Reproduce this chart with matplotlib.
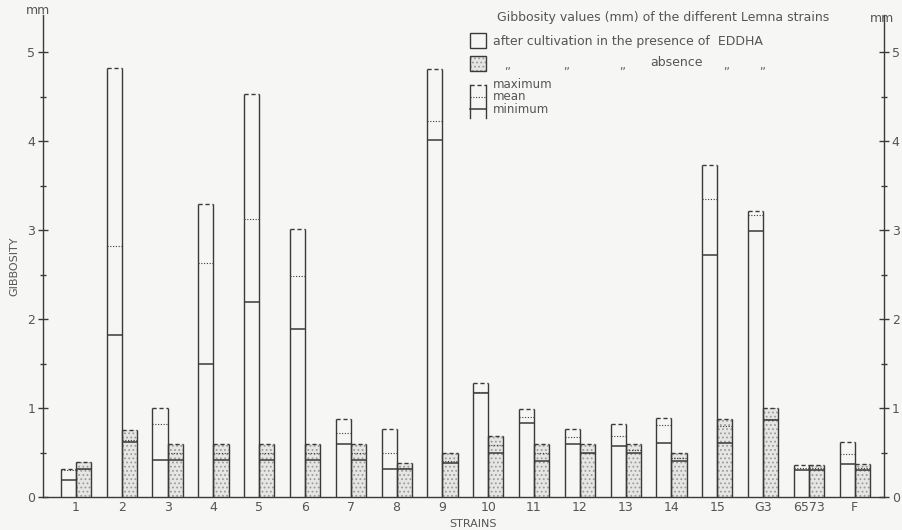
import numpy as np
import matplotlib.pyplot as plt
from matplotlib.patches import Rectangle
from matplotlib.lines import Line2D

# gibbosity (mm) per strain
strains = ["1", "2", "3", "4", "5", "6", "7", "8", "9", "10", "11", "12",
           "13", "14", "15", "G3", "6573", "F"]

# after cultivation in the presence of EDDHA
pres_max = [0.31, 4.82, 1.00, 3.29, 4.53, 3.01, 0.88, 0.76, 4.81, 1.28, 0.99, 0.76,
            0.82, 0.89, 3.73, 3.22, 0.36, 0.62]
pres_mean = [0.30, 2.82, 0.82, 2.63, 3.13, 2.49, 0.72, 0.49, 4.23, 1.18, 0.90, 0.68,
             0.69, 0.81, 3.35, 3.17, 0.33, 0.48]
pres_min = [0.19, 1.82, 0.42, 1.50, 2.19, 1.89, 0.60, 0.31, 4.02, 1.17, 0.83, 0.60,
            0.57, 0.61, 2.72, 2.99, 0.30, 0.37]

# ... in the absence of EDDHA
abs_max = [0.39, 0.75, 0.60, 0.60, 0.60, 0.60, 0.60, 0.38, 0.49, 0.69, 0.60, 0.60,
           0.60, 0.50, 0.88, 1.00, 0.36, 0.37]
abs_mean = [0.31, 0.64, 0.50, 0.50, 0.50, 0.50, 0.50, 0.33, 0.40, 0.59, 0.50, 0.50,
            0.53, 0.44, 0.80, 0.88, 0.33, 0.33]
abs_min = [0.31, 0.62, 0.42, 0.42, 0.42, 0.42, 0.42, 0.31, 0.38, 0.50, 0.41, 0.50,
           0.50, 0.41, 0.61, 0.87, 0.30, 0.30]

INK = "#3a3a3a"
TXT = "#555555"
BG = "#f6f6f4"
STIP = "#e6e6e4"
DOTS = "#9c9c9a"

plt.rcParams["font.family"] = ["DejaVu Sans"]
plt.rcParams["hatch.linewidth"] = 0.8

fig = plt.figure(figsize=(9.02, 5.30), dpi=100, facecolor=BG)
ax = fig.add_axes([43 / 902, 33 / 530, (884 - 43) / 902, (515 - 33) / 530])
ax.set_facecolor(BG)

W = 0.33
x = np.arange(len(strains))


def draw_bar(xl, top, mean, low, stipple):
    if stipple:
        ax.add_patch(Rectangle((xl, 0), W, top, facecolor=STIP, edgecolor=DOTS,
                               hatch="....", lw=0, zorder=1))
    ax.vlines([xl, xl + W], 0, top, colors=INK, lw=1.0, zorder=3)
    ax.hlines(top, xl, xl + W, colors=INK, lw=1.0, linestyles=(0, (3, 2)), zorder=3)
    ax.hlines(mean, xl, xl + W, colors=INK, lw=0.8, linestyles=(0, (1, 1.5)), zorder=3)
    ax.hlines(low, xl, xl + W, colors=INK, lw=1.1, zorder=3)


for i in range(len(strains)):
    draw_bar(x[i] - W, pres_max[i], pres_mean[i], pres_min[i], False)
    draw_bar(x[i], abs_max[i], abs_mean[i], abs_min[i], True)

ax.set_xlim(-0.72, 17.64)
ax.set_ylim(0, 5.42)

for s in ["top", "right"]:
    ax.spines[s].set_visible(False)
for s in ["left", "bottom"]:
    ax.spines[s].set_color(INK)
    ax.spines[s].set_linewidth(1.0)

ax.set_xticks(x)
ax.set_xticklabels(strains)
ax.tick_params(axis="x", length=0, pad=3, labelsize=9, labelcolor=TXT)
ax.set_yticks(range(6))
ax.set_yticks(np.arange(0.5, 5.5, 1.0), minor=True)
ax.tick_params(axis="y", which="major", direction="inout", length=7, width=1.0,
               color=INK, labelsize=9, labelcolor=TXT, pad=2)
ax.tick_params(axis="y", which="minor", direction="inout", length=5, width=1.0, color=INK)

ax2 = ax.twinx()
ax2.set_ylim(ax.get_ylim())
for s in ["top", "left", "bottom"]:
    ax2.spines[s].set_visible(False)
ax2.spines["right"].set_color(INK)
ax2.spines["right"].set_linewidth(1.0)
ax2.set_yticks(range(6))
ax2.set_yticks(np.arange(0.5, 5.5, 1.0), minor=True)
ax2.tick_params(axis="y", which="major", direction="inout", length=7, width=1.0,
                color=INK, labelsize=9, labelcolor=TXT, pad=2)
ax2.tick_params(axis="y", which="minor", direction="inout", length=5, width=1.0, color=INK)


def fx(px):
    return px / 902


def fy(py):
    return 1 - py / 530


# axis texts
fig.text(fx(38), fy(11), "mm", ha="center", va="center", fontsize=9, color=TXT)
fig.text(fx(882), fy(18), "mm", ha="center", va="center", fontsize=9, color=TXT)
fig.text(fx(14), fy(266), "GIBBOSITY", rotation=90, ha="center", va="center",
         fontsize=8, color=TXT)
fig.text(fx(473), fy(524), "STRAINS", ha="center", va="center", fontsize=8, color=TXT)

# legend block
fig.text(fx(497), fy(18), "Gibbosity values (mm) of the different Lemna strains",
         ha="left", va="center", fontsize=9, color=TXT)
fig.add_artist(Rectangle((fx(470), fy(48)), fx(16), 15 / 530, transform=fig.transFigure,
                         facecolor=BG, edgecolor=INK, lw=1.0))
fig.text(fx(493), fy(41), "after cultivation in the presence of  EDDHA",
         ha="left", va="center", fontsize=9, color=TXT)
fig.add_artist(Rectangle((fx(470), fy(71)), fx(16), 15 / 530, transform=fig.transFigure,
                         facecolor=STIP, edgecolor=DOTS, lw=0, hatch="...."))
fig.add_artist(Rectangle((fx(470), fy(71)), fx(16), 15 / 530, transform=fig.transFigure,
                         facecolor="none", edgecolor=INK, lw=1.0))
for px in [508, 567, 623, 727, 763]:
    fig.text(fx(px), fy(66), ",,", ha="center", va="center", fontsize=8, color=TXT)
fig.text(fx(650), fy(63), "absence", ha="left", va="center", fontsize=9, color=TXT)

# max / mean / min key
kx0, kx1 = fx(470), fx(486)
fig.add_artist(Line2D([kx0, kx1], [fy(85), fy(85)], transform=fig.transFigure,
                      color=INK, lw=1.0, ls=(0, (3, 2))))
fig.add_artist(Line2D([kx0, kx1], [fy(97), fy(97)], transform=fig.transFigure,
                      color=INK, lw=0.8, ls=(0, (1, 1.5))))
fig.add_artist(Line2D([kx0, kx1], [fy(109), fy(109)], transform=fig.transFigure,
                      color=INK, lw=1.1))
fig.add_artist(Line2D([kx0, kx0], [fy(85), fy(118)], transform=fig.transFigure,
                      color=INK, lw=1.0))
fig.add_artist(Line2D([kx1, kx1], [fy(85), fy(118)], transform=fig.transFigure,
                      color=INK, lw=1.0))
for py, lab in [(85, "maximum"), (97, "mean"), (109, "minimum")]:
    fig.text(fx(493), fy(py), lab, ha="left", va="center", fontsize=8.5, color=TXT)

fig.savefig("out.png", dpi=100, facecolor=BG)
